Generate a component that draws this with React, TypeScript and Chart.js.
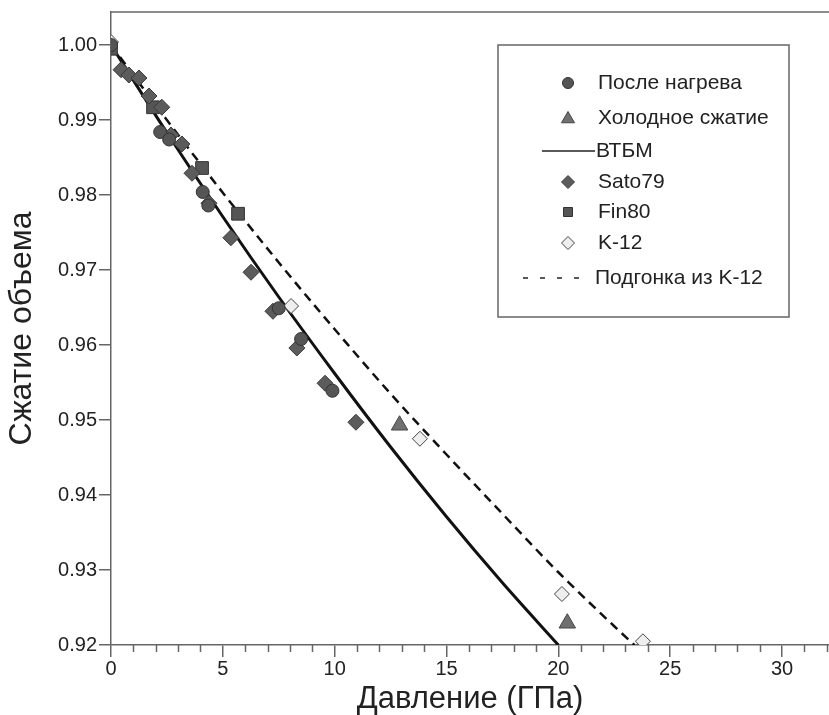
import React, { useEffect, useRef } from "react";
import { Chart, registerables } from "chart.js";

Chart.register(...registerables);

const FONT = "'Liberation Sans', Arial, Helvetica, sans-serif";
const AXIS = "#666666";
const TXT = "#222222";

// ---- data (pressure GPa, relative volume) ----
const heatP = [0, 2.2, 2.6, 4.1, 4.35, 7.5, 8.5, 9.9];
const heatV = [1.0, 0.9884, 0.9874, 0.9804, 0.9786, 0.9649, 0.9608, 0.9539];

const coldP = [12.9, 20.4];
const coldV = [0.9493, 0.9229];

const satoP = [0.45, 0.8, 1.25, 1.7, 2.27, 2.68, 3.17, 3.62, 4.38, 5.36, 6.26, 7.24, 8.31, 9.57, 10.95];
const satoV = [0.9967, 0.996, 0.9956, 0.9932, 0.9917, 0.988, 0.9868, 0.9829, 0.9789, 0.9743, 0.9697, 0.9645, 0.9596, 0.9549, 0.9497];

const finP = [0, 1.88, 4.07, 5.68];
const finV = [0.9995, 0.9917, 0.9836, 0.9775];

const k12P = [0, 8.05, 13.81, 20.16, 23.78];
const k12V = [1.0004, 0.9652, 0.9475, 0.9268, 0.9205];

const btbmP = [0, 2.5, 5, 7.5, 10, 12.5, 15, 17.5, 20];
const btbmV = [1.0, 0.9883, 0.9771, 0.9664, 0.9562, 0.9464, 0.9371, 0.9283, 0.92];

const fitP = [0, 2.5, 5, 7.5, 10, 12.5, 15, 17.5, 20, 22.5, 23.4];
const fitV = [1.0, 0.99, 0.9803, 0.971, 0.9621, 0.9535, 0.9454, 0.9375, 0.9297, 0.9225, 0.92];

const legendLabels = [
  "После нагрева",
  "Холодное сжатие",
  "ВТБМ",
  "Sato79",
  "Fin80",
  "K-12",
  "Подгонка из K-12",
];

const xTitle = "Давление (ГПа)";
const yTitle = "Сжатие объема";

const pts = (xs: number[], ys: number[]) => xs.map((x, i) => ({ x, y: ys[i] }));

function drawMarker(ctx: CanvasRenderingContext2D, kind: string, x: number, y: number, r: number, fill: string, stroke: string) {
  ctx.beginPath();
  if (kind === "circle") {
    ctx.arc(x, y, r, 0, Math.PI * 2);
  } else if (kind === "triangle") {
    const h = r * 1.5;
    const w = r * Math.sqrt(3);
    ctx.moveTo(x, y - r);
    ctx.lineTo(x + w / 2, y - r + h);
    ctx.lineTo(x - w / 2, y - r + h);
    ctx.closePath();
  } else if (kind === "diamond") {
    ctx.moveTo(x, y - r);
    ctx.lineTo(x + r, y);
    ctx.lineTo(x, y + r);
    ctx.lineTo(x - r, y);
    ctx.closePath();
  } else if (kind === "square") {
    ctx.rect(x - r, y - r, 2 * r, 2 * r);
  }
  ctx.fillStyle = fill;
  ctx.fill();
  ctx.strokeStyle = stroke;
  ctx.lineWidth = 1;
  ctx.stroke();
}

const decorPlugin = {
  id: "decor",
  afterDraw(chart: any) {
    const { ctx, chartArea, scales } = chart;
    const xs = scales.x;
    ctx.save();
    // top frame line
    ctx.strokeStyle = AXIS;
    ctx.lineWidth = 1.5;
    ctx.beginPath();
    ctx.moveTo(xs.left, chartArea.top);
    ctx.lineTo(xs.right, chartArea.top);
    ctx.stroke();
    // minor x ticks
    ctx.beginPath();
    for (let v = Math.ceil(xs.min); v <= xs.max; v++) {
      if (v % 5 === 0) continue;
      const px = Math.round(xs.getPixelForValue(v)) + 0.5;
      ctx.moveTo(px, chartArea.bottom);
      ctx.lineTo(px, chartArea.bottom + 7);
    }
    ctx.stroke();

    // legend box
    const bx = 498, by = 45, bw = 291, bh = 272;
    ctx.fillStyle = "#ffffff";
    ctx.fillRect(bx, by, bw, bh);
    ctx.strokeStyle = AXIS;
    ctx.lineWidth = 1.5;
    ctx.strokeRect(bx, by, bw, bh);

    const rows = [83, 118, 151, 182, 212, 243, 278];
    const mx = 568;
    ctx.font = `21px ${FONT}`;
    ctx.fillStyle = TXT;
    ctx.textBaseline = "middle";
    ctx.textAlign = "left";

    drawMarker(ctx, "circle", mx, rows[0], 5.5, "#555555", "#333333");
    drawMarker(ctx, "triangle", mx, rows[1] + 1, 7.5, "#707070", "#444444");
    ctx.strokeStyle = "#222222";
    ctx.lineWidth = 1.5;
    ctx.beginPath();
    ctx.moveTo(542, rows[2]);
    ctx.lineTo(595, rows[2]);
    ctx.stroke();
    drawMarker(ctx, "diamond", mx, rows[3], 6.5, "#5c5c5c", "#3a3a3a");
    drawMarker(ctx, "square", mx, rows[4], 4.5, "#555555", "#333333");
    drawMarker(ctx, "diamond", mx, rows[5], 6.5, "#eeeeee", "#444444");
    ctx.strokeStyle = "#222222";
    ctx.lineWidth = 1.5;
    ctx.setLineDash([5, 12]);
    ctx.beginPath();
    ctx.moveTo(523, rows[6]);
    ctx.lineTo(590, rows[6]);
    ctx.stroke();
    ctx.setLineDash([]);

    ctx.fillStyle = TXT;
    const tx = [598, 598, 596, 598, 598, 598, 595];
    legendLabels.forEach((t, i) => ctx.fillText(t, tx[i], rows[i]));
    ctx.restore();
  },
};

export default function App() {
  const ref = useRef<HTMLCanvasElement | null>(null);

  useEffect(() => {
    document.body.style.margin = "0";
    if (!ref.current) return;
    const chart = new Chart(ref.current, {
      type: "scatter",
      data: {
        datasets: [
          {
            label: legendLabels[0],
            data: pts(heatP, heatV),
            pointStyle: "circle",
            pointRadius: 6.5,
            backgroundColor: "#555555",
            borderColor: "#333333",
            borderWidth: 1,
          },
          {
            label: legendLabels[3],
            data: pts(satoP, satoV),
            pointStyle: "rectRot",
            pointRadius: 8,
            backgroundColor: "#5c5c5c",
            borderColor: "#3a3a3a",
            borderWidth: 1,
          },
          {
            label: legendLabels[4],
            data: pts(finP, finV),
            pointStyle: "rect",
            pointRadius: 9,
            backgroundColor: "#555555",
            borderColor: "#333333",
            borderWidth: 1,
          },
          {
            label: legendLabels[1],
            data: pts(coldP, coldV),
            pointStyle: "triangle",
            pointRadius: 9.5,
            backgroundColor: "#707070",
            borderColor: "#444444",
            borderWidth: 1,
          },
          {
            label: legendLabels[5],
            data: pts(k12P, k12V),
            pointStyle: "rectRot",
            pointRadius: 7.5,
            backgroundColor: "#eeeeee",
            borderColor: "#444444",
            borderWidth: 1,
          },
          {
            type: "line",
            label: legendLabels[2],
            data: pts(btbmP, btbmV),
            showLine: true,
            pointRadius: 0,
            borderColor: "#111111",
            borderWidth: 3,
            cubicInterpolationMode: "monotone",
            fill: false,
          },
          {
            type: "line",
            label: legendLabels[6],
            data: pts(fitP, fitV),
            showLine: true,
            pointRadius: 0,
            borderColor: "#111111",
            borderWidth: 2.5,
            borderDash: [9, 6],
            cubicInterpolationMode: "monotone",
            fill: false,
          },
        ],
      } as any,
      options: {
        animation: false,
        responsive: false,
        maintainAspectRatio: false,
        layout: { autoPadding: false, padding: { top: 12, right: 0, left: 0, bottom: 0 } },
        plugins: { legend: { display: false }, tooltip: { enabled: false } },
        scales: {
          x: {
            type: "linear",
            min: 0,
            max: 32.1,
            afterFit: (s: any) => {
              s.height = 70;
              s.paddingLeft = 0;
              s.paddingRight = 0;
            },
            border: { display: true, color: AXIS, width: 1.5 },
            grid: { display: true, drawOnChartArea: false, drawTicks: true, tickLength: 12, color: AXIS, lineWidth: 1.5 },
            ticks: {
              stepSize: 5,
              includeBounds: false,
              padding: 2,
              color: TXT,
              maxRotation: 0,
              autoSkip: false,
              font: { family: FONT, size: 20, lineHeight: 1 },
            },
            title: {
              display: true,
              text: xTitle,
              color: TXT,
              font: { family: FONT, size: 31, lineHeight: 1 },
              padding: { top: 0, bottom: 0 },
            },
          },
          y: {
            type: "linear",
            min: 0.92,
            max: 1.0044,
            afterFit: (s: any) => {
              s.width = 111;
              s.paddingTop = 0;
              s.paddingBottom = 0;
            },
            border: { display: true, color: AXIS, width: 1.5 },
            grid: { display: true, drawOnChartArea: false, drawTicks: true, tickLength: 12, color: AXIS, lineWidth: 1.5 },
            ticks: {
              stepSize: 0.01,
              includeBounds: false,
              padding: 2,
              color: TXT,
              autoSkip: false,
              font: { family: FONT, size: 20, lineHeight: 1 },
              callback: (v: any) => Number(v).toFixed(2),
            },
            title: {
              display: true,
              text: yTitle,
              color: TXT,
              font: { family: FONT, size: 32 },
              padding: { top: 3, bottom: 0 },
            },
          },
        },
      } as any,
      plugins: [decorPlugin],
    });
    return () => chart.destroy();
  }, []);

  return (
    <div style={{ width: 829, height: 715 }}>
      <canvas ref={ref} width={829} height={715} style={{ display: "block" }} />
    </div>
  );
}
